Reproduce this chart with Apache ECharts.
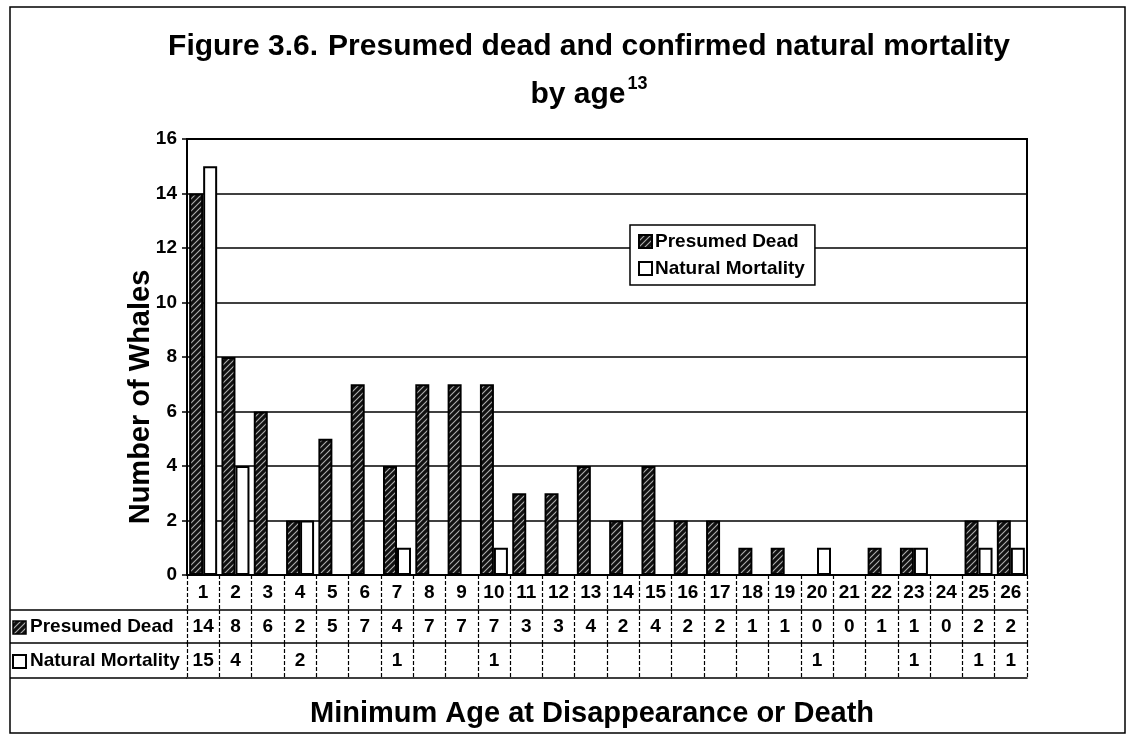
<!DOCTYPE html>
<html>
<head>
<meta charset="utf-8">
<script src="https://cdn.jsdelivr.net/npm/echarts@6/dist/echarts.min.js"></script>
<style>
  html, body { margin: 0; padding: 0; background: #fff; }
  #chart { width: 1128px; height: 735px; }
</style>
</head>
<body>
<div id="chart"></div>
<script>
// 数据
const ages = ['1', '2', '3', '4', '5', '6', '7', '8', '9', '10', '11', '12', '13',
  '14', '15', '16', '17', '18', '19', '20', '21', '22', '23', '24', '25', '26']
const presumedDead = [14, 8, 6, 2, 5, 7, 4, 7, 7, 7, 3, 3, 4, 2, 4, 2, 2, 1, 1, 0, 0, 1, 1, 0, 2, 2]
const naturalMortality = [15, 4, null, 2, null, null, 1, null, null, 1, null, null, null,
  null, null, null, null, null, null, 1, null, null, 1, null, 1, 1]
const seriesNames = ['Presumed Dead', 'Natural Mortality']

const FONT = '"Liberation Sans Narrow", "Liberation Sans", Arial, sans-serif'

// 斜线填充
function makeHatch() {
  const c = document.createElement('canvas')
  c.width = 6
  c.height = 6
  const ctx = c.getContext('2d')
  ctx.fillStyle = '#111'
  ctx.fillRect(0, 0, 6, 6)
  ctx.strokeStyle = '#b0b0b0'
  ctx.lineWidth = 1.1
  ctx.beginPath()
  ctx.moveTo(0, 6); ctx.lineTo(6, 0)
  ctx.moveTo(-3, 3); ctx.lineTo(3, -3)
  ctx.moveTo(3, 9); ctx.lineTo(9, 3)
  ctx.stroke()
  return c
}
const hatch = makeHatch()

const myChart = echarts.init(document.getElementById('chart'))

// 表格行 = 偏移的x轴
const tableAxis = (offset, values, tickLen, margin) => ({
  type: 'category',
  data: ages,
  position: 'bottom',
  offset: offset,
  axisLine: { show: true, lineStyle: { color: '#000', width: 1.5 } },
  axisTick: {
    show: values !== null,
    length: tickLen,
    lineStyle: { color: '#000', width: 1.2, type: [4, 2] }
  },
  axisLabel: {
    show: values !== null,
    interval: 0,
    margin: margin,
    color: '#000',
    fontFamily: FONT,
    fontWeight: 'bold',
    fontSize: 19,
    formatter: (v, i) => (values && values[i] != null ? String(values[i]) : '')
  },
  splitLine: { show: false }
})

const rowLine = (y) => ({
  type: 'line',
  shape: { x1: 10, y1: y, x2: 187, y2: y },
  style: { stroke: '#000', lineWidth: 1.5 }
})

const option = {
  animation: false,
  backgroundColor: '#fff',
  title: {
    left: 584,
    top: 18,
    textAlign: 'center',
    text: '{a|Figure 3.6.}  {b|Presumed dead and confirmed natural mortality}\n{b|by age}{s|13}',
    textStyle: {
      rich: {
        a: { fontFamily: FONT, fontWeight: 900, fontSize: 30, color: '#000', lineHeight: 48 },
        b: { fontFamily: FONT, fontWeight: 'bold', fontSize: 30, color: '#000', lineHeight: 48 },
        s: { fontFamily: FONT, fontWeight: 'bold', fontSize: 18, color: '#000', verticalAlign: 'top', lineHeight: 18, padding: [4, 0, 0, 2] }
      }
    }
  },
  legend: {
    orient: 'vertical',
    left: 630,
    top: 225,
    padding: [7, 10, 7, 8],
    itemGap: 8,
    itemWidth: 13,
    itemHeight: 13,
    borderColor: '#000',
    borderWidth: 1.5,
    backgroundColor: '#fff',
    icon: 'rect',
    textStyle: { fontFamily: FONT, fontWeight: 'bold', fontSize: 19, color: '#000', padding: [0, 0, 0, -2] },
    data: seriesNames
  },
  grid: {
    left: 187,
    right: 101,
    top: 139,
    bottom: 160,
    show: true,
    borderColor: '#000',
    borderWidth: 2,
    backgroundColor: '#fff'
  },
  xAxis: [
    tableAxis(0, ages, 35, 8),
    tableAxis(35, presumedDead, 33, 7),
    tableAxis(68, naturalMortality, 35, 8),
    tableAxis(103, null, 0, 0)
  ],
  yAxis: {
    type: 'value',
    min: 0,
    max: 16,
    interval: 2,
    axisLine: { show: true, lineStyle: { color: '#000', width: 2 } },
    axisTick: { show: true, length: 5, lineStyle: { color: '#000', width: 1.5 } },
    axisLabel: { color: '#000', fontFamily: FONT, fontWeight: 'bold', fontSize: 19, margin: 10 },
    splitLine: { show: true, lineStyle: { color: '#000', width: 1.5 } }
  },
  series: [
    {
      name: seriesNames[0],
      type: 'bar',
      barWidth: 14,
      barGap: '0%',
      data: presumedDead,
      itemStyle: { color: { image: hatch, repeat: 'repeat' }, borderColor: '#000', borderWidth: 2 }
    },
    {
      name: seriesNames[1],
      type: 'bar',
      barWidth: 14,
      barGap: '0%',
      data: naturalMortality,
      itemStyle: { color: '#fff', borderColor: '#000', borderWidth: 2 }
    }
  ],
  graphic: [
    // 外框
    {
      type: 'rect',
      shape: { x: 10, y: 7, width: 1115, height: 726 },
      style: { fill: null, stroke: '#000', lineWidth: 1.5 },
      z: -1
    },
    rowLine(610),
    rowLine(643),
    rowLine(678),
    // 表格行标题
    {
      type: 'rect',
      shape: { x: 13, y: 621, width: 13, height: 13 },
      style: { fill: { image: hatch, repeat: 'repeat' }, stroke: '#000', lineWidth: 1.5 }
    },
    {
      type: 'text',
      x: 30,
      y: 627,
      style: { text: seriesNames[0], font: 'bold 19px ' + FONT, fill: '#000', verticalAlign: 'middle' }
    },
    {
      type: 'rect',
      shape: { x: 13, y: 655, width: 13, height: 13 },
      style: { fill: '#fff', stroke: '#000', lineWidth: 2 }
    },
    {
      type: 'text',
      x: 30,
      y: 661,
      style: { text: seriesNames[1], font: 'bold 19px ' + FONT, fill: '#000', verticalAlign: 'middle' }
    },
    // y轴名称
    {
      type: 'text',
      x: 141,
      y: 397,
      rotation: Math.PI / 2,
      style: {
        text: 'Number of Whales',
        font: '900 29px ' + FONT,
        fill: '#000',
        align: 'center',
        verticalAlign: 'middle'
      }
    },
    // x轴名称
    {
      type: 'text',
      x: 592,
      y: 714,
      style: {
        text: 'Minimum Age at Disappearance or Death',
        font: '900 29px ' + FONT,
        fill: '#000',
        align: 'center',
        verticalAlign: 'middle'
      }
    }
  ]
}
myChart.setOption(option)
</script>
</body>
</html>
